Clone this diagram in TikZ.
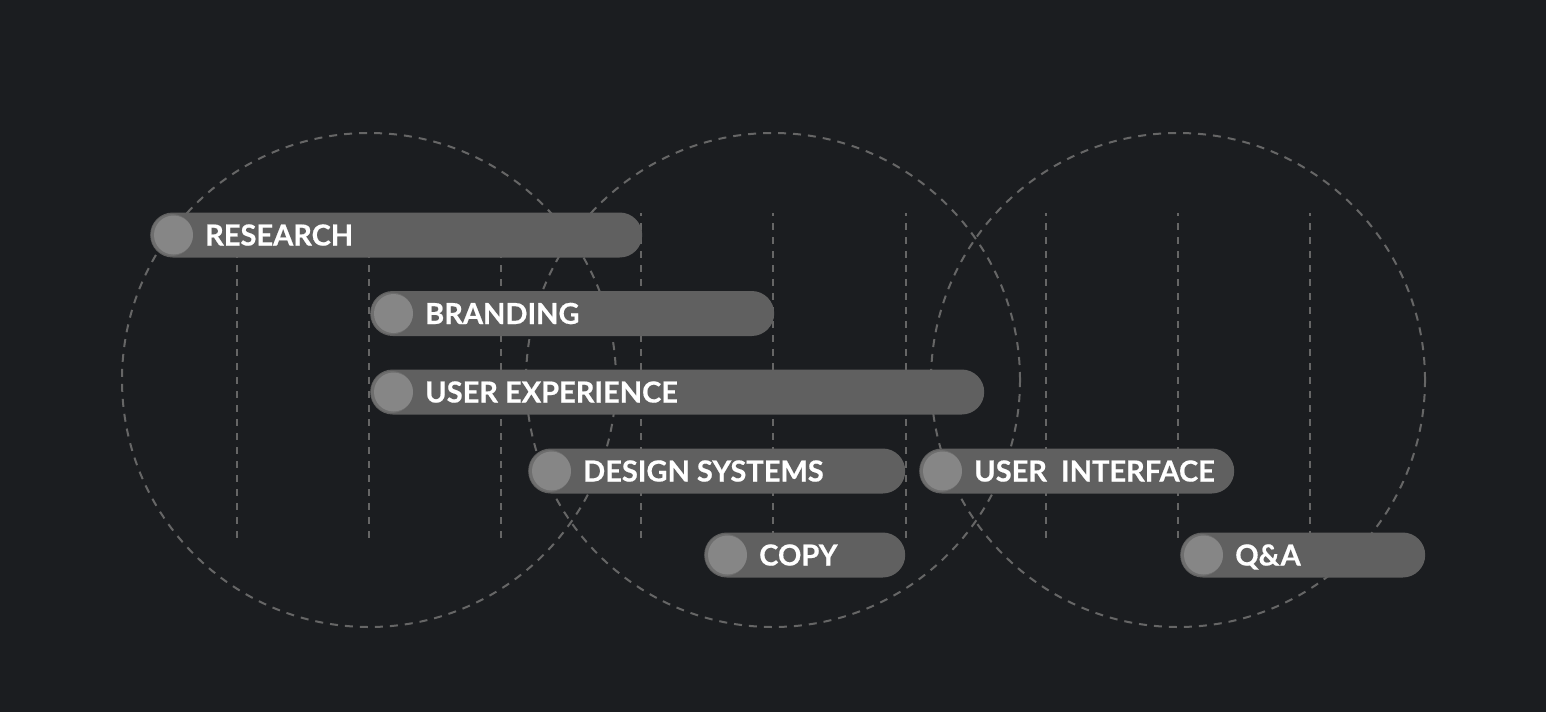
\documentclass[tikz,border=0pt]{standalone}
\usepackage{fontspec}
\setmainfont{Lato}
\newfontfamily\lblfont[FakeBold=0.6]{Lato Bold}
\usetikzlibrary{shapes.misc}
\definecolor{bg}{HTML}{1B1D20}
\definecolor{barc}{HTML}{606060}
\definecolor{knobc}{HTML}{868686}
\definecolor{knobsh}{HTML}{6E6E6E}
\definecolor{dashc}{HTML}{666666}
\tikzset{
  guide/.style={draw=dashc, line width=2pt, dash pattern=on 8pt off 7pt},
  vguide/.style={draw=dashc, line width=2pt, dash pattern=on 7pt off 7pt, dash phase=4pt},
  barbox/.style={rounded rectangle, fill=barc, minimum height=45pt, inner sep=0pt, anchor=west},
  knobshadow/.style={circle, fill=knobsh, minimum size=42pt, inner sep=0pt},
  knob/.style={circle, fill=knobc, minimum size=39pt, inner sep=0pt},
  lbl/.style={text=white, font=\lblfont\fontsize{29}{31}\selectfont, inner sep=0pt, anchor=base west}
}
\newcommand\tlbar[5]{%
  \node[barbox, minimum width=#3pt-#2pt] (#1) at (#2,#4) {};
  \node[knobshadow] (#1s) at (#2+22,#4) {};
  \node[knob] (#1k) at (#2+23.5,#4) {};
  \node[lbl] (#1t) at (#2+55,#4+10.5) {#5};
}
\begin{document}
\begin{tikzpicture}[x=1pt,y=-1pt]
\fill[bg] (0,0) rectangle (1546,712);
\useasboundingbox (0,0) rectangle (1546,712);
% circles
\foreach \cx/\n in {369/c1,773/c2,1178/c3}{
  \node[circle, guide, minimum size=494pt, inner sep=0pt] (\n) at (\cx,380) {};
}
% vertical guides
\foreach \vx/\n in {237/v1,369/v2,501/v3,641/v4,773/v5,906/v6,1046/v7,1178/v8,1310/v9}{
  \coordinate (\n a) at (\vx,213);
  \coordinate (\n b) at (\vx,544);
  \draw[vguide] (\n a) -- (\n b);
}
% bars
\tlbar{research}{150}{642}{235}{RESEARCH}
\tlbar{branding}{370}{774}{313.5}{BRANDING}
\tlbar{ux}{370}{984}{392}{USER EXPERIENCE}
\tlbar{ds}{528}{905}{471}{DESIGN SYSTEMS}
\tlbar{ui}{919}{1234}{471}{USER\ \ INTERFACE}
\tlbar{copy}{704}{905}{555}{COPY}
\tlbar{qa}{1180}{1425}{555}{Q\&A}
\end{tikzpicture}
\end{document}
